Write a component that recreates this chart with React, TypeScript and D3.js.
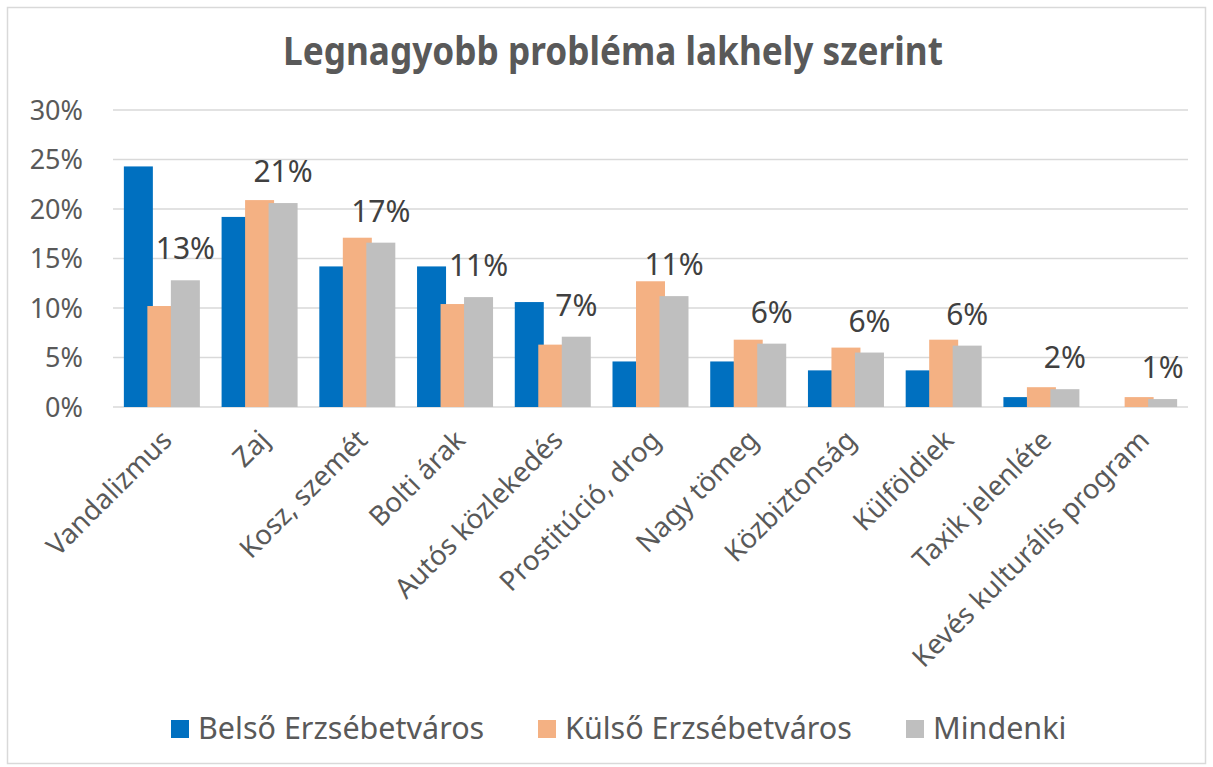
import { useRef, useEffect } from 'react';
import * as d3 from 'd3';

const categories = [
    'Vandalizmus', 'Zaj', 'Kosz, szemét', 'Bolti árak', 'Autós közlekedés',
    'Prostitúció, drog', 'Nagy tömeg', 'Közbiztonság', 'Külföldiek',
    'Taxik jelenléte', 'Kevés kulturális program'
];
const seriesNames = ['Belső Erzsébetváros', 'Külső Erzsébetváros', 'Mindenki'];
const belso = [24.3, 19.2, 14.2, 14.2, 10.6, 4.6, 4.6, 3.7, 3.7, 1.0, 0];
const kulso = [10.2, 20.9, 17.1, 10.4, 6.3, 12.7, 6.8, 6.0, 6.8, 2.0, 1.0];
const mindenki = [12.8, 20.6, 16.6, 11.1, 7.1, 11.2, 6.4, 5.5, 6.2, 1.8, 0.8];
const yTicks = [0, 5, 10, 15, 20, 25, 30];
const colors = ['#0070C0', '#F4B183', '#BFBFBF'];

const W = 1213;
const H = 767;
const font = '"Noto Sans", "Open Sans", sans-serif';

export default function App() {
    const svgRef = useRef<SVGSVGElement | null>(null);

    useEffect(() => {
        if (!svgRef.current) return;
        const svg = d3.select(svgRef.current);
        svg.selectAll('*').remove();

        // chart frame
        svg.append('rect')
            .attr('x', 7.5).attr('y', 7.5)
            .attr('width', 1198).attr('height', 756)
            .attr('fill', '#fff')
            .attr('stroke', '#D9D9D9')
            .attr('stroke-width', 1.5);

        svg.append('text')
            .attr('x', 613).attr('y', 65)
            .attr('text-anchor', 'middle')
            .attr('font-family', font)
            .attr('font-weight', 700)
            .attr('font-size', 39)
            .attr('fill', '#595959')
            .attr('textLength', 660)
            .attr('lengthAdjust', 'spacingAndGlyphs')
            .text('Legnagyobb probléma lakhely szerint');

        const x = d3.scaleBand<string>()
            .domain(categories)
            .range([113, 1188]);

        const y = d3.scaleLinear()
            .domain([0, 30])
            .range([407, 110]);

        // gridlines
        svg.append('g')
            .selectAll('line')
            .data(yTicks)
            .enter().append('line')
            .attr('x1', 113).attr('x2', 1188)
            .attr('y1', d => y(d)).attr('y2', d => y(d))
            .attr('stroke', '#D9D9D9')
            .attr('stroke-width', 1.5);

        // y axis labels
        svg.append('g')
            .selectAll('text')
            .data(yTicks)
            .enter().append('text')
            .attr('x', 83)
            .attr('y', d => y(d))
            .attr('dy', '0.36em')
            .attr('text-anchor', 'end')
            .attr('font-family', font)
            .attr('font-size', 27)
            .attr('fill', '#595959')
            .text(d => `${d}%`);

        const series = [belso, kulso, mindenki];
        const barW = 29;
        const step = 23.5;
        const groupW = step * 2 + barW;

        series.forEach((vals, si) => {
            svg.append('g')
                .selectAll('rect')
                .data(vals)
                .enter().append('rect')
                .attr('x', (d, i) => (x(categories[i]) as number) + x.bandwidth() / 2 - groupW / 2 + si * step)
                .attr('y', d => y(d))
                .attr('width', barW)
                .attr('height', d => y(0) - y(d))
                .attr('fill', colors[si]);
        });

        // labels on the "Mindenki" bars
        svg.append('g')
            .selectAll('text')
            .data(mindenki)
            .enter().append('text')
            .attr('x', (d, i) => (x(categories[i]) as number) + x.bandwidth() / 2 - groupW / 2 + 2 * step + barW / 2)
            .attr('y', d => y(d) - 21)
            .attr('text-anchor', 'middle')
            .attr('font-family', font)
            .attr('font-size', 30)
            .attr('fill', '#404040')
            .text(d => `${Math.round(d)}%`);

        // category labels, rotated
        svg.append('g')
            .selectAll('text')
            .data(categories)
            .enter().append('text')
            .attr('transform', d => `translate(${(x(d) as number) + x.bandwidth() / 2 + 5},435) rotate(-45)`)
            .attr('dy', '0.35em')
            .attr('text-anchor', 'end')
            .attr('font-family', font)
            .attr('font-size', 27.5)
            .attr('fill', '#595959')
            .text(d => d);

        // legend
        const legendX = [171, 538, 906];
        const legend = svg.append('g');
        seriesNames.forEach((name, i) => {
            legend.append('rect')
                .attr('x', legendX[i]).attr('y', 720)
                .attr('width', 18).attr('height', 18)
                .attr('fill', colors[i]);
            legend.append('text')
                .attr('x', legendX[i] + 27).attr('y', 739)
                .attr('font-family', font)
                .attr('font-size', 30.5)
                .attr('fill', '#595959')
                .text(name);
        });
    }, []);

    return (
        <svg ref={svgRef} width={W} height={H} style={{ position: 'absolute', left: 0, top: 0 }} />
    );
}
